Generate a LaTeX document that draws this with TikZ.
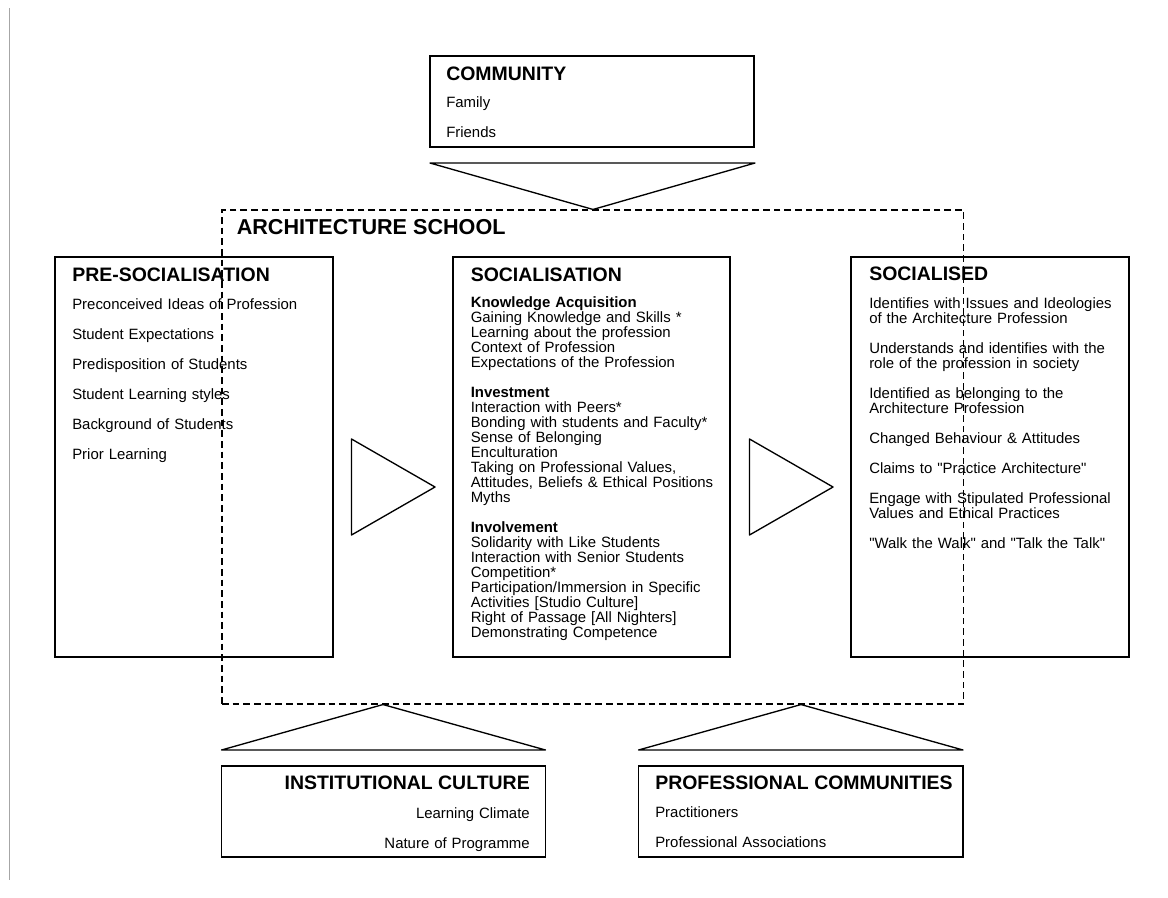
\documentclass[tikz,border=0pt]{standalone}
\usepackage{fontspec}
\setmainfont[Ligatures=TeXOff]{Liberation Sans}
\usetikzlibrary{fit}

\begin{document}
\begin{tikzpicture}[x=0.75pt,y=-0.75pt,
	box/.style={draw,line width=1pt,inner sep=0pt},
	head/.style={font=\fontsize{14.6}{16}\selectfont\bfseries,inner sep=0pt,anchor=base west},
	items/.style={font=\fontsize{11.2}{22.5}\selectfont,inner sep=0pt,anchor=base west,text width=250pt,align=left},
	list/.style={font=\fontsize{11.2}{11.25}\selectfont,inner sep=0pt,anchor=base west,text width=250pt,align=left},
	tri/.style={line width=1pt,line join=round}]
				\useasboundingbox (0,0) rectangle (1168,897);
				\draw[black!35,line width=0.75pt] (9.5,8) -- (9.5,880);

				\coordinate(c1) at (430,56);
				\coordinate(c2) at (754,147);
				\coordinate(p1) at (55,257);
				\coordinate(p2) at (333,657);
				\coordinate(s1) at (453,257);
				\coordinate(s2) at (730,657);
				\coordinate(d1) at (851,257);
				\coordinate(d2) at (1129,657);
				\coordinate(i1) at (221.5,766);
				\coordinate(i2) at (545.5,857);
				\coordinate(r1) at (638.5,766);
				\coordinate(r2) at (963,857);
				\coordinate(a1) at (222,210);
				\coordinate(a2) at (963.5,704);

				\node[box,fit=(c1)(c2)] (community) {};
				\node[box,fit=(p1)(p2)] (presoc) {};
				\node[box,fit=(s1)(s2)] (soc) {};
				\node[box,fit=(d1)(d2)] (socd) {};
				\node[box,fit=(i1)(i2)] (inst) {};
				\node[box,fit=(r1)(r2)] (prof) {};
				\node[draw,line width=0.8pt,dash pattern=on 5pt off 3pt,inner sep=0pt,fit=(a1)(a2)] (school) {};

				\draw[tri] (430,163)--(755,163)--(school.north -| 593,0)--cycle;
				\draw[tri] (351.5,439)--(351.5,535)--(435,487)--cycle;
				\draw[tri] (749.5,439)--(749.5,535)--(833,487)--cycle;
				\draw[tri] (221.5,750)--(545.5,750)--(school.south -| 383,0)--cycle;
				\draw[tri] (638.5,750)--(963,750)--(school.south -| 801,0)--cycle;

				\node[head,font=\fontsize{16.2}{18}\selectfont\bfseries] (schooltitle) at (236.5,234) {ARCHITECTURE SCHOOL};

				\node[head] (communitytitle) at (446,80.5) {COMMUNITY};
				\node[items] (communityitems) at (446,107) {Family\\Friends};

				\node[head] (presoctitle) at (72,281.5) {PRE-SOCIALISATION};
				\node[items] (presocitems) at (72,309) {Preconceived Ideas of Profession\\Student Expectations\\Predisposition of Students\\Student Learning styles\\Background of Students\\Prior Learning};

				\node[head] (soctitle) at (470.5,281.5) {SOCIALISATION};
				\node[list] (socitems) at (470.5,307) {\textbf{Knowledge Acquisition}\\
					Gaining Knowledge and Skills *\\
					Learning about the profession\\
					Context of Profession\\
					Expectations of the Profession\\[11.25pt]
					\textbf{Investment}\\
					Interaction with Peers*\\
					Bonding with students and Faculty*\\
					Sense of Belonging\\
					Enculturation\\
					Taking on Professional Values,\\
					Attitudes, Beliefs \& Ethical Positions\\
					Myths\\[11.25pt]
					\textbf{Involvement}\\
					Solidarity with Like Students\\
					Interaction with Senior Students\\
					Competition*\\
					Participation/Immersion in Specific\\
					Activities [Studio Culture]\\
					Right of Passage [All Nighters]\\
					Demonstrating Competence};

				\node[head] (socdtitle) at (869,280) {SOCIALISED};
				\node[list] (socditems) at (869,308.5) {Identifies with Issues and Ideologies\\
					of the Architecture Profession\\[11.25pt]
					Understands and identifies with the\\
					role of the profession in society\\[11.25pt]
					Identified as belonging to the\\
					Architecture Profession\\[11.25pt]
					Changed Behaviour \& Attitudes\\[11.25pt]
					Claims to "Practice Architecture"\\[11.25pt]
					Engage with Stipulated Professional\\
					Values and Ethical Practices\\[11.25pt]
					"Walk the Walk" and "Talk the Talk"};

				\node[head,anchor=base east] (insttitle) at (530,789) {INSTITUTIONAL CULTURE};
				\node[items,anchor=base east,align=right] (institems) at (530,818) {Learning Climate\\Nature of Programme};

				\node[head] (proftitle) at (655,789) {PROFESSIONAL COMMUNITIES};
				\node[items] (profitems) at (655,817.5) {Practitioners\\Professional Associations};

			\end{tikzpicture}
\end{document}
